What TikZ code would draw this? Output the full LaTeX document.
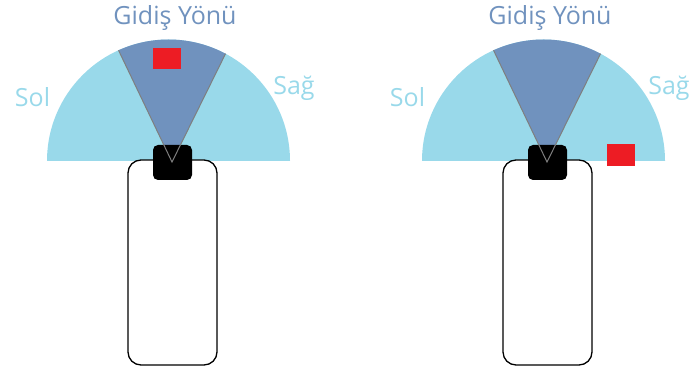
\documentclass[tikz,border=0pt]{standalone}
\usepackage{fontspec}
\setmainfont{Open Sans}
\definecolor{fieldblue}{HTML}{99D9EA}
\definecolor{conedark}{HTML}{7092BE}
\definecolor{targetred}{HTML}{ED1C24}
\definecolor{edgegray}{HTML}{7F7F7F}
\tikzset{
  x=1pt, y=1pt,
  field/.style={fill=fieldblue},
  cone/.style={fill=conedark},
  coneedge/.style={draw=edgegray, line width=1pt},
  carbody/.style={draw=black, line width=1.3pt, fill=white, rounded corners=13pt,
    minimum width=89pt, minimum height=205pt, inner sep=0pt},
  sensor/.style={fill=black, rounded corners=5pt, minimum width=39pt,
    minimum height=35pt, inner sep=0pt},
  target/.style={fill=targetred, inner sep=0pt},
  headlabel/.style={text=conedark, font=\fontsize{25}{25}\selectfont, anchor=base, inner sep=0pt},
  sidelabel/.style={text=fieldblue, font=\fontsize{25}{25}\selectfont, anchor=base, inner sep=0pt},
}
\begin{document}
\begin{tikzpicture}
\useasboundingbox (0,0) rectangle (695,371);
\foreach \dx/\id in {0/L, 375/R} {
  \begin{scope}[xshift=\dx]
    % sensing field and forward cone
    \coordinate (c\id) at (168.5,210);
    \coordinate (apex\id) at (172,209);
    \fill[field] (47,210) arc[start angle=180, end angle=0, radius=121.5] -- cycle;
    \coordinate (cl\id) at ([shift={(168.5,210)}]114.3:121.5);
    \coordinate (cr\id) at ([shift={(168.5,210)}]62:121.5);
    \fill[cone] (apex\id) -- (cr\id) arc[start angle=62, end angle=114.3, radius=121.5] -- cycle;
    % robot body and sensor head
    \node[carbody] (car\id) at (172.5,108.5) {};
    \node[sensor] (head\id) at (172.5,208.5) {};
    \draw[coneedge] (cl\id) -- (apex\id) -- (cr\id);
    % labels
    \node[headlabel] (dir\id) at (175,346) {Gidiş Yönü};
    \node[sidelabel] (left\id) at (32.5,264) {Sol};
    \node[sidelabel] (right\id) at (294,276) {Sağ};
  \end{scope}
}
% detected objects
\node[target, minimum width=28pt, minimum height=21pt] (objL) at (167,312.5) {};
\node[target, minimum width=28pt, minimum height=22pt] (objR) at (621,216) {};
\end{tikzpicture}
\end{document}
